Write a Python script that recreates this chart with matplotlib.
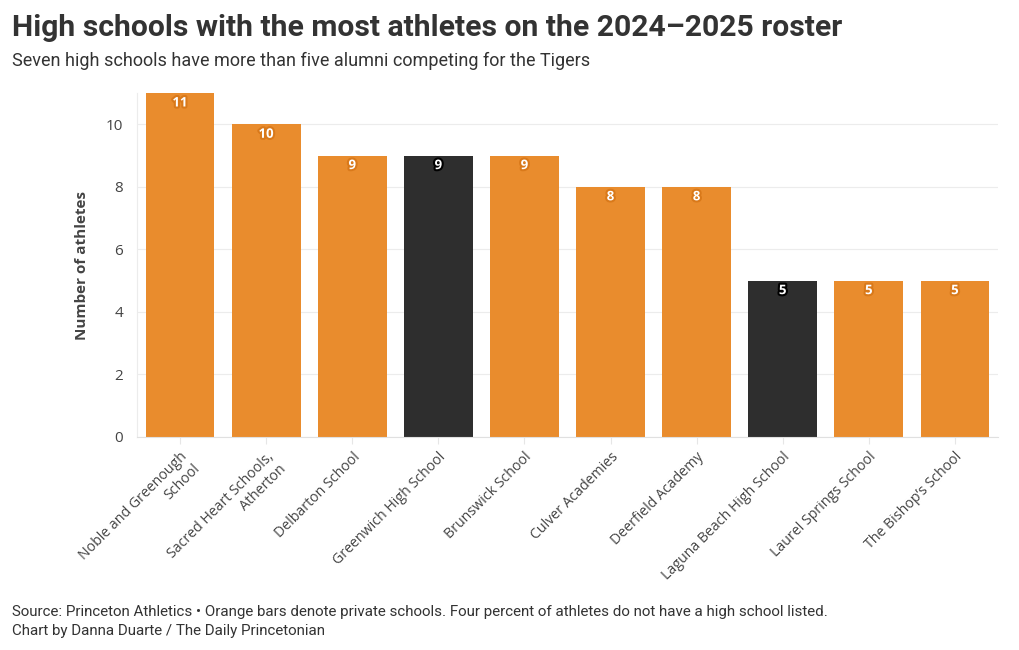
import matplotlib.pyplot as plt
import matplotlib.patheffects as pe
from matplotlib import font_manager

schools = ["Noble and Greenough\nSchool", "Sacred Heart Schools,\nAtherton", "Delbarton School",
           "Greenwich High School", "Brunswick School", "Culver Academies", "Deerfield Academy",
           "Laguna Beach High School", "Laurel Springs School", "The Bishop\u2019s School"]
athletes = [11, 10, 9, 9, 9, 8, 8, 5, 5, 5]
private = [True, True, True, False, True, True, True, False, True, True]
yticks = [0, 2, 4, 6, 8, 10]

orange = "#E98C2D"
dark = "#2E2E2E"

names = {f.name for f in font_manager.fontManager.ttflist}
fam = "Liberation Sans Narrow" if "Liberation Sans Narrow" in names else "Roboto"
plt.rcParams['font.family'] = ['Open Sans', 'DejaVu Sans']

fig = plt.figure(figsize=(10.2, 6.5), dpi=100)
ax = fig.add_axes([137/1020, 1-437/650, (998-137)/1020, (437-93)/650])

colors = [orange if p else dark for p in private]
x = range(len(schools))
ax.bar(x, athletes, width=0.8, color=colors, zorder=2)

for xi, v, p in zip(x, athletes, private):
    edge = "#D9791A" if p else "black"
    ax.text(xi, v - 0.32, str(v), ha="center", va="center", fontsize=9.5, fontweight="bold",
            color="white", zorder=3,
            path_effects=[pe.withStroke(linewidth=3, foreground=edge)])

ax.set_xlim(-0.5, len(schools) - 0.5)
ax.set_ylim(0, 11)
ax.set_yticks(yticks)
ax.set_xticks(list(x))
ax.set_xticklabels(schools, rotation=45, ha="right", rotation_mode="anchor",
                   fontsize=10.2, color="#444444")
ax.tick_params(axis="x", length=5, color="#e6e6e6", pad=4)
ax.tick_params(axis="y", length=0, labelsize=11, labelcolor="#444444", pad=10)
ax.grid(axis="y", color="#ececec", linewidth=0.8, zorder=0)
for s in ["top", "right"]:
    ax.spines[s].set_visible(False)
ax.spines["left"].set_color("#ececec")
ax.spines["bottom"].set_color("#e0e0e0")
ax.set_ylabel("Number of athletes", fontsize=11, fontweight="bold", color="#444444", labelpad=12)

fig.text(12/1020, 1-28/650, "High schools with the most athletes on the 2024\u20132025 roster",
         fontsize=21.7, fontweight="bold", color="#333333", va="center", family=[fam, 'DejaVu Sans'])
fig.text(12/1020, 1-61/650, "Seven high schools have more than five alumni competing for the Tigers",
         fontsize=13, color="#333333", va="center", family=[fam, 'DejaVu Sans'])
fig.text(12/1020, 1-612/650,
         "Source: Princeton Athletics \u2022 Orange bars denote private schools. Four percent of athletes do not have a high school listed.",
         fontsize=10.9, color="#333333", va="center", family=[fam, 'DejaVu Sans'])
fig.text(12/1020, 1-631/650, "Chart by Danna Duarte / The Daily Princetonian",
         fontsize=10.9, color="#333333", va="center", family=[fam, 'DejaVu Sans'])

fig.savefig("out.png", dpi=100)
